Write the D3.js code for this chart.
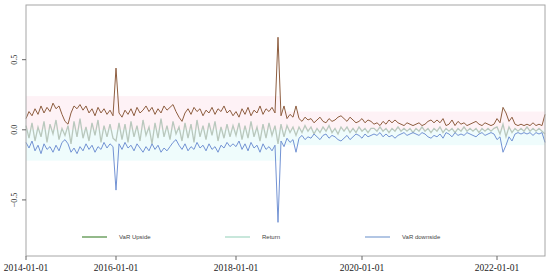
<!DOCTYPE html>
<html>
<head>
<meta charset="utf-8">
<script src="https://cdn.jsdelivr.net/npm/d3@7"></script>
<style>
  body { margin: 0; background: #fff; }
  svg { display: block; }
  .tick-label { font-family: 'Liberation Serif', serif; fill: #222; }
  .legend-label { font-family: 'Liberation Sans', Arial, sans-serif; font-size: 6px; fill: #444; }
</style>
</head>
<body>
<svg id="chart"></svg>
<script>
// observation index of each year tick
const tickIndex = [0, 30, 70, 112, 157];
const tickLabels = ['2014-01-01', '2016-01-01', '2018-01-01', '2020-01-01', '2022-01-01'];
const yTicks = [-0.5, 0, 0.5];
const seriesNames = ['VaR Upside', 'Return', 'VaR downside'];

const varUpside = [
  0.08, 0.13, 0.10, 0.15, 0.11, 0.17, 0.12, 0.16, 0.13, 0.19, 0.15, 0.17, 0.11, 0.06, 0.04,
  0.12, 0.17, 0.15, 0.18, 0.14, 0.17, 0.12, 0.15, 0.10, 0.16, 0.12, 0.15, 0.11, 0.14, 0.10,
  0.44,
  0.12, 0.09, 0.14, 0.11, 0.15, 0.10, 0.16, 0.12, 0.14, 0.17, 0.13, 0.16, 0.11, 0.15, 0.12,
  0.17, 0.14, 0.16, 0.18, 0.13, 0.09, 0.06, 0.12, 0.15, 0.11, 0.16, 0.13, 0.15, 0.10, 0.14,
  0.12, 0.16, 0.11, 0.15, 0.13, 0.17, 0.12, 0.14, 0.10,
  0.13, 0.09, 0.15, 0.11, 0.16, 0.10, 0.14, 0.12, 0.17, 0.11, 0.15, 0.13, 0.16, 0.12,
  0.66,
  0.10, 0.17, 0.08, 0.11, 0.09, 0.17,
  0.08, 0.06, 0.09, 0.07, 0.08, 0.05, 0.07, 0.09, 0.06, 0.05, 0.08, 0.06, 0.07, 0.09, 0.10,
  0.08, 0.06, 0.09, 0.07, 0.05, 0.06, 0.08, 0.05, 0.07, 0.06,
  0.04, 0.05, 0.03, 0.06, 0.04, 0.07, 0.05, 0.07, 0.05, 0.04, 0.03, 0.05, 0.04, 0.03, 0.04,
  0.05, 0.03, 0.04, 0.06, 0.07, 0.05, 0.07, 0.05, 0.08, 0.03, 0.04, 0.07, 0.03, 0.06, 0.04,
  0.05, 0.03, 0.04, 0.05, 0.06, 0.04, 0.03, 0.05, 0.04, 0.03, 0.04,
  0.08, 0.05, 0.16, 0.12, 0.06, 0.09, 0.04, 0.03, 0.04, 0.03, 0.04, 0.03, 0.05, 0.03, 0.04,
  0.03, 0.11
];

const returns = [
  0.03, -0.06, 0.05, -0.08, 0.02, -0.05, 0.06, -0.09, 0.04, -0.03, 0.07, -0.07, 0.01, -0.04, 0.03,
  -0.10, 0.06, -0.05, 0.08, -0.06, 0.02, -0.08, 0.05, -0.04, 0.07, -0.09, 0.03, -0.05, 0.04, -0.06,
  -0.08,
  0.05, -0.07, 0.04, -0.09, 0.06, -0.05, 0.03, -0.08, 0.07, -0.04, 0.02, -0.10, 0.05, -0.06, 0.08,
  -0.05, 0.03, -0.07, 0.06, -0.03, 0.02, -0.08, 0.05, -0.06, 0.04, -0.09, 0.07, -0.05, 0.03, -0.07,
  0.05, -0.04, 0.06, -0.08, 0.02, -0.06, 0.04, -0.05, 0.03,
  -0.04, 0.05, -0.07, 0.03, -0.06, 0.06, -0.05, 0.02, -0.08, 0.04, -0.06, 0.05, -0.04, 0.03,
  -0.10,
  0.04, -0.05, 0.03, -0.02, 0.02, -0.04,
  0.02, -0.02, 0.03, -0.01, 0.02, -0.03, 0.01, -0.02, 0.02, -0.01, 0.03, -0.02, 0.01, -0.03, 0.02,
  -0.01, 0.02, -0.02, 0.01, -0.02, 0.02, -0.01, 0.01, -0.02, 0.01,
  0.01, -0.01, 0.02, -0.01, 0.01, -0.02, 0.01, -0.01, 0.02, -0.01, 0.01, -0.01, 0.01, -0.02, 0.01,
  -0.01, 0.02, -0.01, 0.01, -0.02, 0.01, -0.01, 0.02, -0.02, 0.01, -0.01, 0.01, -0.02, 0.01, -0.01,
  0.02, -0.01, 0.01, -0.01, 0.01, -0.02, 0.01, -0.01, 0.01, -0.01, 0.01,
  0.02, -0.03, 0.04, -0.05, 0.02, -0.02, 0.01, -0.01, 0.01, -0.01, 0.02, -0.01, 0.01, -0.01, 0.01,
  -0.01, -0.03
];

const varDownside = [
  -0.09, -0.13, -0.08, -0.15, -0.11, -0.17, -0.10, -0.14, -0.12, -0.16, -0.11, -0.15, -0.09, -0.07, -0.10,
  -0.16, -0.13, -0.17, -0.12, -0.15, -0.10, -0.14, -0.11, -0.16, -0.12, -0.14, -0.09, -0.13, -0.10, -0.12,
  -0.43,
  -0.10, -0.14, -0.09, -0.13, -0.11, -0.15, -0.10, -0.13, -0.16, -0.12, -0.15, -0.10, -0.14, -0.11, -0.16,
  -0.13, -0.15, -0.12, -0.09, -0.07, -0.11, -0.14, -0.10, -0.15, -0.12, -0.14, -0.09, -0.13, -0.11, -0.15,
  -0.10, -0.14, -0.12, -0.16, -0.11, -0.13, -0.09, -0.12, -0.10,
  -0.12, -0.08, -0.14, -0.10, -0.15, -0.09, -0.13, -0.11, -0.16, -0.10, -0.14, -0.12, -0.15, -0.11,
  -0.66,
  -0.08, -0.12, -0.06, -0.09, -0.07, -0.16,
  -0.06, -0.04, -0.07, -0.05, -0.06, -0.03, -0.05, -0.07, -0.04, -0.03, -0.06, -0.04, -0.05, -0.07, -0.08,
  -0.06, -0.04, -0.07, -0.05, -0.03, -0.04, -0.06, -0.03, -0.05, -0.04,
  -0.03, -0.04, -0.02, -0.05, -0.03, -0.05, -0.04, -0.06, -0.04, -0.03, -0.02, -0.04, -0.03, -0.02, -0.03,
  -0.04, -0.02, -0.03, -0.05, -0.06, -0.04, -0.05, -0.03, -0.06, -0.02, -0.03, -0.05, -0.02, -0.04, -0.03,
  -0.04, -0.02, -0.03, -0.04, -0.05, -0.03, -0.02, -0.04, -0.03, -0.02, -0.03,
  -0.07, -0.05, -0.16, -0.11, -0.05, -0.08, -0.03, -0.02, -0.03, -0.02, -0.03, -0.02, -0.04, -0.02, -0.03,
  -0.02, -0.09
];

// faint tinted bands behind the lines (index range, upper value, lower value)
const bandFrom = [0, 85];
const bandTo = [85, 173];
const bandTop = [0.24, 0.13];
const bandBottom = [-0.22, -0.11];

const width = 550;
const height = 274;
const margin = { top: 5, right: 5, bottom: 18, left: 26 };

const svg = d3.select('#chart').attr('width', width).attr('height', height);

const xScale = d3
  .scaleLinear()
  .domain([0, varUpside.length - 1])
  .range([margin.left, width - margin.right]);

const yScale = d3
  .scaleLinear()
  .domain([-0.9, 0.89])
  .range([height - margin.bottom, margin.top]);

// Tinted bands
bandFrom.forEach((from, i) => {
  svg
    .append('rect')
    .attr('x', xScale(from))
    .attr('width', xScale(bandTo[i]) - xScale(from))
    .attr('y', yScale(bandTop[i]))
    .attr('height', yScale(0) - yScale(bandTop[i]))
    .attr('fill', '#fef2f6');
  svg
    .append('rect')
    .attr('x', xScale(from))
    .attr('width', xScale(bandTo[i]) - xScale(from))
    .attr('y', yScale(0))
    .attr('height', yScale(bandBottom[i]) - yScale(0))
    .attr('fill', '#effcfc');
});

const line = d3
  .line()
  .x((d, i) => xScale(i))
  .y((d) => yScale(d));

const colors = ['#8e5e40', '#b9c8bd', '#7393d4'];
const legendColors = ['#4c8a3c', '#a3d8c4', '#7fa0d2'];

svg.append('path').datum(returns).attr('fill', 'none').attr('stroke', colors[1]).attr('stroke-width', 1.3).attr('d', line);
svg.append('path').datum(varDownside).attr('fill', 'none').attr('stroke', colors[2]).attr('stroke-width', 1).attr('d', line);
svg.append('path').datum(varUpside).attr('fill', 'none').attr('stroke', colors[0]).attr('stroke-width', 1).attr('d', line);

// Box
svg
  .append('rect')
  .attr('x', margin.left)
  .attr('y', margin.top)
  .attr('width', width - margin.left - margin.right)
  .attr('height', height - margin.top - margin.bottom)
  .attr('fill', 'none')
  .attr('stroke', '#a6a6a6')
  .attr('stroke-width', 1);

// X axis
const xAxis = svg.append('g');
tickIndex.forEach((t, i) => {
  xAxis
    .append('line')
    .attr('x1', xScale(t))
    .attr('x2', xScale(t))
    .attr('y1', yScale.range()[0])
    .attr('y2', yScale.range()[0] + 4)
    .attr('stroke', '#666');
  xAxis
    .append('text')
    .attr('class', 'tick-label')
    .attr('x', xScale(t))
    .attr('y', height - 3)
    .attr('text-anchor', 'middle')
    .attr('font-size', '9.5px')
    .text(tickLabels[i]);
});

// Y axis
const yAxis = svg.append('g');
yTicks.forEach((t) => {
  yAxis
    .append('line')
    .attr('x1', margin.left - 4)
    .attr('x2', margin.left)
    .attr('y1', yScale(t))
    .attr('y2', yScale(t))
    .attr('stroke', '#666');
  yAxis
    .append('text')
    .attr('class', 'tick-label')
    .attr('transform', 'translate(17,' + yScale(t) + ') rotate(-90)')
    .attr('text-anchor', 'middle')
    .attr('font-size', '8px')
    .attr('fill', '#555')
    .text(d3.format('.1f')(t));
});

// Legend
const legendX = [82, 225, 365];
const legend = svg.append('g');
seriesNames.forEach((name, i) => {
  legend
    .append('line')
    .attr('x1', legendX[i])
    .attr('x2', legendX[i] + 25)
    .attr('y1', 237)
    .attr('y2', 237)
    .attr('stroke', legendColors[i])
    .attr('stroke-width', 1.2);
  legend
    .append('text')
    .attr('class', 'legend-label')
    .attr('x', legendX[i] + 37)
    .attr('y', 239)
    .text(name);
});
</script>
</body>
</html>
